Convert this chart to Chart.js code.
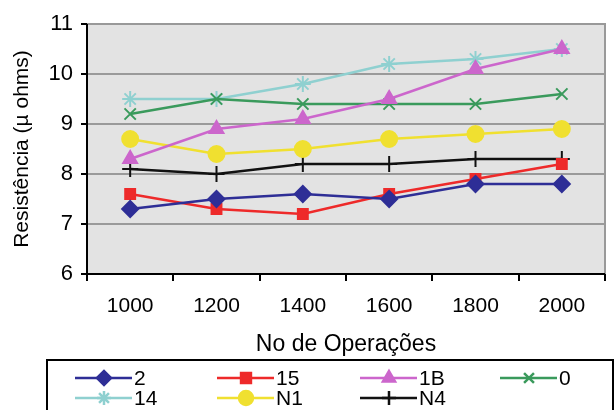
<!DOCTYPE html>
<html><head><meta charset="utf-8">
<script src="https://cdn.jsdelivr.net/npm/chart.js@4.4.0/dist/chart.umd.min.js"></script>
<style>html,body{margin:0;padding:0;background:#fff}#wrap{width:615px;height:410px}</style>
</head><body><div id="wrap"><canvas id="c" width="615" height="410"></canvas></div>
<script>
const categories = ['1000','1200','1400','1600','1800','2000'];
const seriesNames = ['2','15','1B','0','14','N1','N4'];
const s2  = [7.3, 7.5, 7.6, 7.5, 7.8, 7.8];
const s15 = [7.6, 7.3, 7.2, 7.6, 7.9, 8.2];
const s1B = [8.3, 8.9, 9.1, 9.5, 10.1, 10.5];
const s0  = [9.2, 9.5, 9.4, 9.4, 9.4, 9.6];
const s14 = [9.5, 9.5, 9.8, 10.2, 10.3, 10.5];
const sN1 = [8.7, 8.4, 8.5, 8.7, 8.8, 8.9];
const sN4 = [8.1, 8.0, 8.2, 8.2, 8.3, 8.3];
const yTicks = [6,7,8,9,10,11];

const FONT = '"Liberation Sans", Arial, sans-serif';
const styles = [
  {c:'#2e2e96', p:'rectRot', r:8},
  {c:'#ee2a2a', p:'rect', r:7},
  {c:'#cc66cc', p:'triangle', r:8},
  {c:'#3a9a5c', p:'crossRot', r:8},
  {c:'#8fd0d0', p:'star', r:8},
  {c:'#f0e030', p:'circle', r:8},
  {c:'#111111', p:'cross', r:8}
];
const values = [s2,s15,s1B,s0,s14,sN1,sN4];
const datasets = values.map((v,i)=>({
  label: seriesNames[i], data: v,
  borderColor: styles[i].c, backgroundColor: styles[i].c,
  pointStyle: styles[i].p, pointRadius: styles[i].r, pointBorderWidth: 2,
  borderWidth: 2.5, tension: 0
}));

const bgPlugin = {
  id:'bg',
  beforeDraw(chart){
    const {ctx, chartArea:a} = chart;
    ctx.save();
    ctx.fillStyle = '#e3e3e3';
    ctx.fillRect(a.left, a.top, a.right-a.left, a.bottom-a.top);
    ctx.restore();
  },
  afterDatasetsDraw(chart){
    const {ctx, chartArea:a} = chart;
    ctx.save();
    ctx.strokeStyle = '#999';
    ctx.lineWidth = 2;
    ctx.beginPath();
    ctx.moveTo(a.left, a.top); ctx.lineTo(a.right, a.top); ctx.lineTo(a.right, a.bottom);
    ctx.stroke();
    ctx.strokeStyle = '#000';
    ctx.beginPath();
    ctx.moveTo(a.left, a.top); ctx.lineTo(a.left, a.bottom); ctx.lineTo(a.right, a.bottom);
    ctx.stroke();
    ctx.restore();
  },
  afterDraw(chart){
    const ctx = chart.ctx;
    ctx.save();
    const bx=47, by=360, bw=566, bh=56;
    ctx.strokeStyle='#000'; ctx.lineWidth=2;
    ctx.strokeRect(bx, by, bw, bh);
    ctx.font = '21px ' + FONT;
    ctx.textBaseline='middle';
    const cols=[75,217,360,500], rows=[378,398];
    chart.data.datasets.forEach((ds,i)=>{
      const x = cols[i%4], y = rows[Math.floor(i/4)];
      ctx.strokeStyle = ds.borderColor; ctx.lineWidth=2.5;
      ctx.beginPath(); ctx.moveTo(x,y); ctx.lineTo(x+57,y); ctx.stroke();
      ctx.fillStyle = ds.borderColor;
      ctx.strokeStyle = ds.borderColor;
      Chart.helpers.drawPoint(ctx, {pointStyle: ds.pointStyle, radius: 7, borderWidth:2}, x+29, y);
      ctx.fillStyle='#000';
      ctx.fillText(ds.label, x+59, y+1);
    });
    ctx.restore();
  }
};

new Chart(document.getElementById('c'), {
  type:'line',
  data:{labels:categories, datasets},
  options:{
    responsive:false, animation:false,
    layout:{padding:{left:0,right:4,top:24,bottom:50}},
    plugins:{legend:{display:false}, tooltip:{enabled:false}},
    scales:{
      x:{
        type:'category', offset:true,
        afterFit(axis){ axis.height = 86; },
        grid:{offset:true, drawOnChartArea:false, drawTicks:true, tickLength:7, tickColor:'#000', lineWidth:2},
        border:{display:false},
        ticks:{color:'#000', font:{family:FONT, size:21}, padding:13, maxRotation:0},
        title:{display:true, text:'No de Operações', color:'#000', font:{family:FONT, size:23}, padding:{top:2,bottom:2}}
      },
      y:{
        min:6, max:11,
        afterFit(axis){ axis.width = 87; },
        afterBuildTicks(axis){ axis.ticks = yTicks.map(v=>({value:v})); },
        grid:{color:'#9a9a9a', lineWidth:2, tickColor:'#000', tickLength:6, drawTicks:true},
        border:{display:false},
        ticks:{color:'#000', font:{family:FONT, size:22}, padding:8},
        title:{display:true, text:'Resistência (µ ohms)', color:'#000', font:{family:FONT, size:21}, padding:{top:10,bottom:4}}
      }
    }
  },
  plugins:[bgPlugin]
});
</script></body></html>
